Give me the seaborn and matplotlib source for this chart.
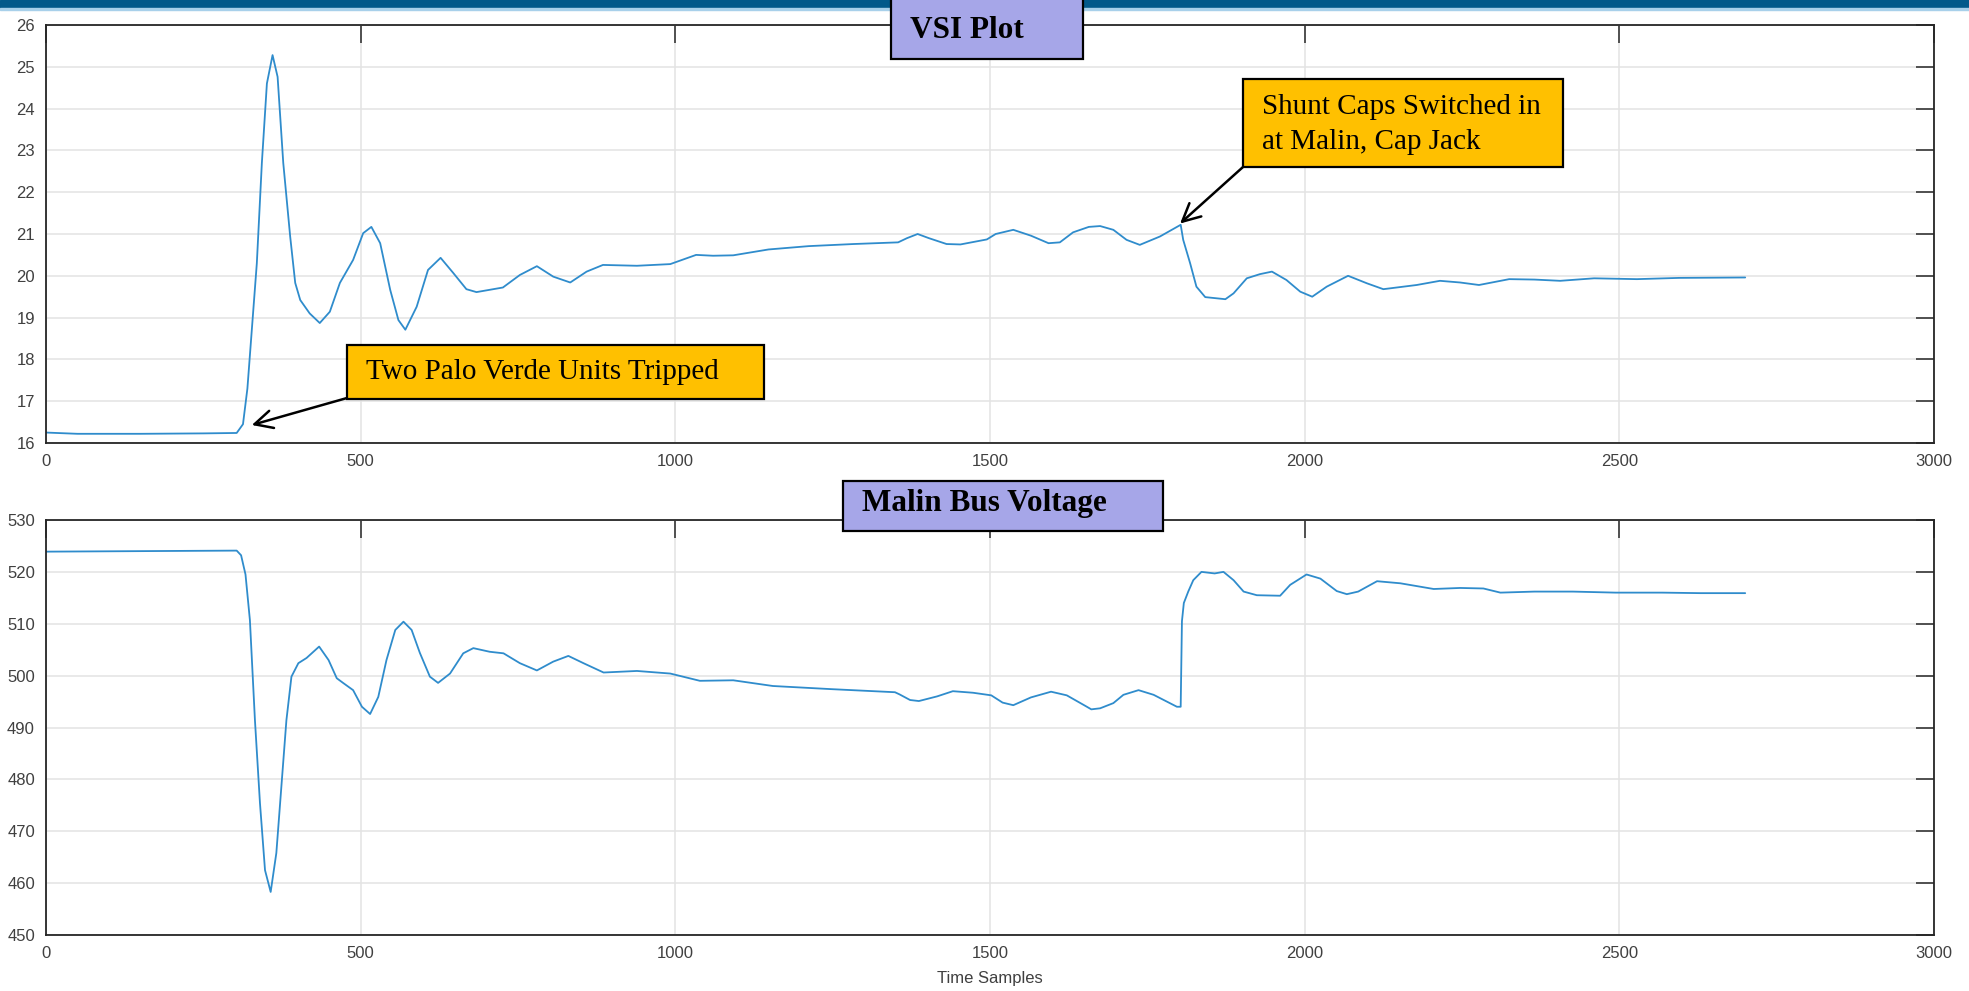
import matplotlib.pyplot as plt
import matplotlib.patches as mpatches
import seaborn as sns
import pandas as pd

# VSI values
vsi_x = [0, 50, 150, 250, 303, 313, 320, 327, 335, 343, 351, 360, 368, 377, 388, 396, 404, 419,
         435, 451, 467, 488, 504, 517, 531, 547, 560, 571, 589, 607, 627, 647, 668, 684, 726,
         753, 780, 806, 833, 859, 885, 939, 992, 1005, 1033, 1060, 1092, 1148, 1212, 1283, 1354,
         1368, 1385, 1403, 1431, 1453, 1495, 1509, 1537, 1565, 1593, 1611, 1632, 1657, 1675,
         1696, 1717, 1738, 1770, 1803, 1807, 1818, 1828, 1842, 1874, 1887, 1908, 1929, 1948,
         1971, 1993, 2012, 2035, 2069, 2099, 2125, 2178, 2215, 2247, 2277, 2325, 2365, 2406,
         2460, 2528, 2595, 2700]
vsi_y = [16.25, 16.22, 16.22, 16.23, 16.24, 16.45, 17.3, 18.7, 20.3, 22.7, 24.6, 25.28, 24.76,
         22.7, 20.94, 19.83, 19.42, 19.1, 18.87, 19.14, 19.83, 20.38, 21.02, 21.17, 20.78,
         19.66, 18.94, 18.71, 19.26, 20.14, 20.43, 20.07, 19.68, 19.61, 19.72, 20.02, 20.23,
         19.98, 19.84, 20.1, 20.26, 20.24, 20.28, 20.35, 20.5, 20.48, 20.49, 20.63, 20.71,
         20.76, 20.8, 20.9, 21.0, 20.9, 20.76, 20.75, 20.87, 21.0, 21.1, 20.96, 20.78, 20.8,
         21.04, 21.17, 21.19, 21.1, 20.86, 20.74, 20.94, 21.22, 20.86, 20.3, 19.74, 19.49,
         19.44, 19.58, 19.94, 20.04, 20.1, 19.9, 19.62, 19.5, 19.74, 20.0, 19.82, 19.68, 19.78,
         19.88, 19.84, 19.78, 19.92, 19.91, 19.88, 19.94, 19.92, 19.95, 19.96]

# Malin bus voltage values
bus_x = [0, 150, 303, 310, 317, 324, 332, 340, 348, 357, 366, 374, 382, 390, 401, 414, 434,
         449, 462, 472, 488, 502, 515, 528, 541, 555, 568, 581, 594, 610, 623, 642, 663, 679,
         705, 727, 753, 780, 806, 830, 854, 886, 939, 992, 1039, 1092, 1155, 1247, 1349, 1356,
         1373, 1387, 1416, 1441, 1473, 1502, 1520, 1537, 1565, 1597, 1622, 1651, 1661, 1675,
         1696, 1712, 1736, 1760, 1797, 1803, 1805, 1808, 1815, 1823, 1836, 1857, 1871, 1887,
         1903, 1924, 1961, 1977, 2003, 2025, 2051, 2067, 2085, 2115, 2152, 2205, 2247, 2284,
         2311, 2365, 2426, 2494, 2568, 2629, 2700]
bus_y = [523.9, 524.0, 524.1, 523.2, 519.5, 510.7, 491.4, 475.4, 462.5, 458.3, 465.8, 478.6,
         491.4, 499.8, 502.4, 503.4, 505.6, 503.0, 499.5, 498.6, 497.2, 494.0, 492.6, 495.9,
         503.0, 508.8, 510.4, 508.8, 504.4, 499.8, 498.6, 500.4, 504.3, 505.3, 504.6, 504.3,
         502.4, 501.0, 502.7, 503.8, 502.4, 500.6, 500.9, 500.4, 499.0, 499.1, 498.0, 497.4,
         496.8, 496.4, 495.3, 495.1, 496.0, 497.0, 496.7, 496.2, 494.8, 494.3, 495.8, 496.9,
         496.2, 494.2, 493.5, 493.7, 494.7, 496.3, 497.2, 496.3, 494.0, 494.0, 510.5, 514.0,
         516.2, 518.4, 520.0, 519.7, 520.0, 518.4, 516.2, 515.5, 515.4, 517.5, 519.5, 518.7,
         516.3, 515.7, 516.2, 518.2, 517.8, 516.7, 516.9, 516.8, 516.0, 516.2, 516.2, 516.0,
         516.0, 515.9, 515.9]

x_ticks = [0, 500, 1000, 1500, 2000, 2500, 3000]
vsi_ticks = [16, 17, 18, 19, 20, 21, 22, 23, 24, 25, 26]
bus_ticks = [450, 460, 470, 480, 490, 500, 510, 520, 530]

W, H = 1969, 991
LINE = '#2f8ccc'
EDGE = '#262626'
LABEL = '#404040'

sns.set_theme(style='white')
plt.rcParams['font.family'] = ['Liberation Sans', 'DejaVu Sans']

fig = plt.figure(figsize=(W / 100, H / 100), dpi=100)
fig.patch.set_facecolor('white')


def fbox(x0, y0, x1, y1):
    # pixel box (top-left origin) -> figure fraction rect
    return [x0 / W, 1 - y1 / H, (x1 - x0) / W, (y1 - y0) / H]


ax1 = fig.add_axes(fbox(46, 25, 1934, 443))
ax2 = fig.add_axes(fbox(46, 520, 1934, 935))

df_vsi = pd.DataFrame({'t': vsi_x, 'v': vsi_y})
df_bus = pd.DataFrame({'t': bus_x, 'v': bus_y})
sns.lineplot(data=df_vsi, x='t', y='v', ax=ax1, color=LINE, lw=1.3)
sns.lineplot(data=df_bus, x='t', y='v', ax=ax2, color=LINE, lw=1.3)

for ax, yt in [(ax1, vsi_ticks), (ax2, bus_ticks)]:
    ax.set_xlim(0, 3000)
    ax.set_ylim(yt[0], yt[-1])
    ax.set_xticks(x_ticks)
    ax.set_yticks(yt)
    ax.grid(True, color='#e3e3e3', lw=1.1)
    ax.set_axisbelow(True)
    for s in ax.spines.values():
        s.set_color(EDGE)
        s.set_linewidth(1.3)
    ax.tick_params(direction='in', length=13, width=1.1, top=True, right=True,
                   color=EDGE, labelcolor=LABEL, labelsize=12, pad=8)
    ax.set_ylabel('')
    ax.set_xlabel('')

ax2.set_xlabel('Time Samples', fontsize=12, color=LABEL, labelpad=7)

# dark header bar
fig.patches.append(mpatches.Rectangle((0, 1 - 8 / H), 1, 8 / H, transform=fig.transFigure,
                                      color='#02598a', zorder=5))
fig.patches.append(mpatches.Rectangle((0, 1 - 10 / H), 1, 2 / H, transform=fig.transFigure,
                                      color='#a8d0ea', zorder=5))


def label_box(x0, y0, x1, y1, face, lines, tx, ty, size, weight, gap=35):
    r = fbox(x0, y0, x1, y1)
    fig.patches.append(mpatches.Rectangle((r[0], r[1]), r[2], r[3], transform=fig.transFigure,
                                          facecolor=face, edgecolor='black', lw=1.6, zorder=6))
    for i, s in enumerate(lines):
        fig.text(tx / W, 1 - (ty + i * gap) / H, s, ha='left', va='center', fontsize=size,
                 fontweight=weight, color='black',
                 family=['Liberation Serif', 'DejaVu Serif'], zorder=7)


label_box(891, -2, 1083, 59, '#a6a6e8', ['VSI Plot'], 910, 30, 22.5, 'bold')
label_box(843, 481, 1163, 531, '#a6a6e8', ['Malin Bus Voltage'], 862, 504, 22.5, 'bold')
label_box(347, 345, 764, 399, '#ffc000', ['Two Palo Verde Units Tripped'], 366, 372, 21, 'normal')
label_box(1243, 79, 1563, 167, '#ffc000', ['Shunt Caps Switched in', 'at Malin, Cap Jack'],
          1262, 107, 21, 'normal')

arrow = dict(arrowstyle='->', color='black', lw=1.8, mutation_scale=32, shrinkA=0, shrinkB=0)
ax1.annotate('', xy=(327, 16.43), xycoords='data', xytext=(347, H - 398),
             textcoords='figure pixels', arrowprops=arrow, annotation_clip=False)
ax1.annotate('', xy=(1802, 21.25), xycoords='data', xytext=(1243, H - 167),
             textcoords='figure pixels', arrowprops=arrow, annotation_clip=False)

fig.savefig('out.png', dpi=100)
